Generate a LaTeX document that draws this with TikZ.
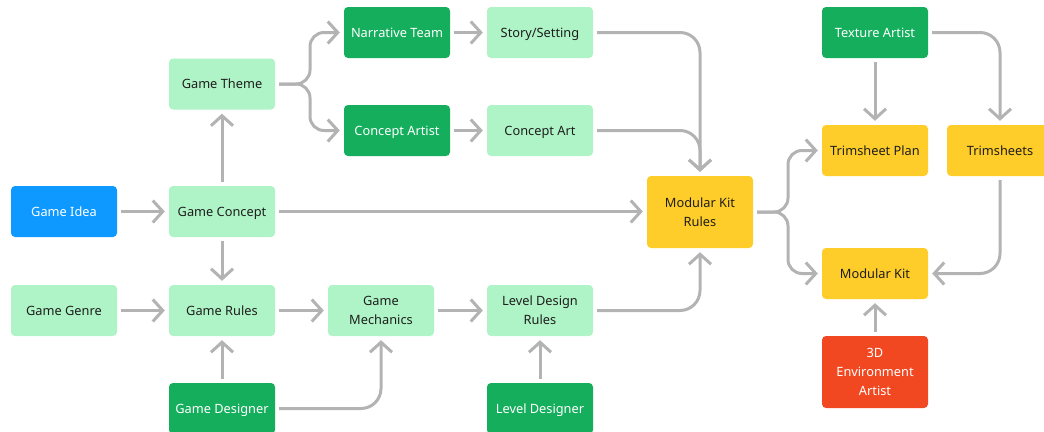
\documentclass[tikz,border=0pt]{standalone}
\usepackage{fontspec}
\setmainfont{Noto Sans}
\usetikzlibrary{arrows.meta}
\definecolor{ideablue}{HTML}{0D99FF}
\definecolor{palegreen}{HTML}{AFF4C6}
\definecolor{deepgreen}{HTML}{14AE5C}
\definecolor{kityellow}{HTML}{FFCD29}
\definecolor{artistred}{HTML}{F24822}
\definecolor{linkgray}{HTML}{B3B3B3}
\definecolor{inkdark}{HTML}{1E1E1E}
\tikzset{
  card/.style={rounded corners=4pt, minimum width=106pt, minimum height=51pt,
    inner sep=0pt, align=center, font=\fontsize{12.8}{19}\selectfont},
  % single-line labels: centre the capitals in the box
  oneline/.style={text height=9pt, text depth=0pt},
  idea/.style={card, oneline, fill=ideablue, text=white},
  work/.style={card, oneline, fill=palegreen, text=inkdark},
  role/.style={card, oneline, fill=deepgreen, text=white},
  kit/.style={card, oneline, fill=kityellow, text=inkdark},
  multi/.style={text height=, text depth=},
  envrole/.style={card, fill=artistred, text=white},
  link/.style={draw=linkgray, line width=3pt, rounded corners=16pt,
    -{Straight Barb[length=10pt, width=22pt, line width=3pt]},
    shorten >=4pt, shorten <=4pt},
}
\begin{document}
\begin{tikzpicture}[x=1pt, y=-1pt]
\useasboundingbox (0,0) rectangle (1044,431);
\clip (0,0) rectangle (1044,431);

% left column
\node[idea] (idea) at (64,211.5) {Game Idea};
\node[work] (genre) at (64,310.5) {Game Genre};

% concept column
\node[work] (theme) at (222,84) {Game Theme};
\node[work] (concept) at (222,211.5) {Game Concept};
\node[work] (rules) at (222,310.5) {Game Rules};
\node[role] (gdesigner) at (222,408.5) {Game Designer};

% narrative / art column
\node[role] (narrative) at (397,32.5) {Narrative Team};
\node[role] (cartist) at (397,130.5) {Concept Artist};
\node[work, multi] (mechanics) at (381,310.5) {Game\\Mechanics};

\node[work] (story) at (540,32.5) {Story/Setting};
\node[work] (cart) at (540,130.5) {Concept Art};
\node[work, multi] (ldrules) at (540,310.5) {Level Design\\Rules};
\node[role] (ldesigner) at (540,408.5) {Level Designer};

% modular kit rules
\node[kit, multi, minimum height=72pt] (mkrules) at (700,212) {Modular Kit\\Rules};

% texture / kit column
\node[role] (texture) at (875,32.5) {Texture Artist};
\node[kit] (tplan) at (875,150.5) {Trimsheet Plan};
\node[kit] (trims) at (1000,150.5) {Trimsheets};
\node[kit] (mkit) at (875,273.5) {Modular Kit};
\node[envrole, minimum height=72pt] (envartist) at (875,372) {3D\\Environment\\Artist};

% connectors
\draw[link] (idea) -- (concept);
\draw[link] (concept) -- (theme);
\draw[link] (concept) -- (rules);
\draw[link] (concept.east) -- (concept.east -| mkrules.west);
\draw[link, rounded corners=14pt] (theme.east) -- (310,84) |- (narrative.west);
\draw[link, rounded corners=14pt] (theme.east) -- (310,84) |- (cartist.west);
\draw[link] (narrative) -- (story);
\draw[link] (cartist) -- (cart);
\draw[link, rounded corners=20pt] (story.east) -| (mkrules.north);
\draw[link, rounded corners=20pt] (cart.east) -| (mkrules.north);
\draw[link, rounded corners=20pt] (ldrules.east) -| (mkrules.south);
\draw[link] (genre) -- (rules);
\draw[link] (rules) -- (mechanics);
\draw[link] (mechanics) -- (ldrules);
\draw[link] (gdesigner) -- (rules);
\draw[link, rounded corners=20pt] (gdesigner.east) -| (mechanics.south);
\draw[link] (ldesigner) -- (ldrules);
\draw[link, rounded corners=14pt] (mkrules.east) -- (788,212) |- (tplan.west);
\draw[link, rounded corners=14pt] (mkrules.east) -- (788,212) |- (mkit.west);
\draw[link] (texture) -- (tplan);
\draw[link, rounded corners=20pt] (texture.east) -| (trims.north);
\draw[link, rounded corners=20pt] (trims.south) |- (mkit.east);
\draw[link] (envartist) -- (mkit);
\end{tikzpicture}
\end{document}
